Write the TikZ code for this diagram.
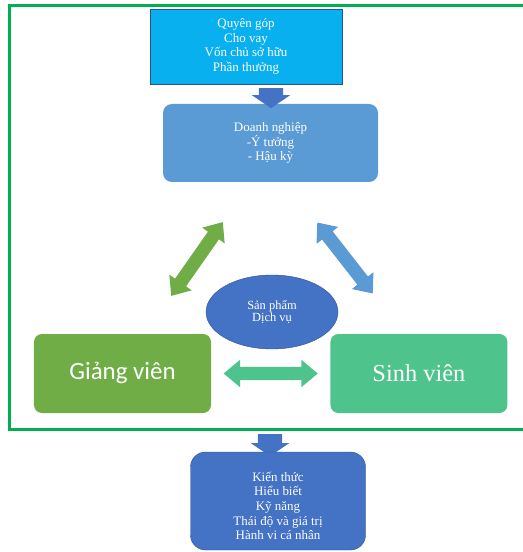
\documentclass[tikz,border=0pt]{standalone}
\usepackage{fontspec}
\setmainfont{Liberation Serif}
\newfontfamily\calibri{Carlito}
\usetikzlibrary{positioning,shapes.geometric,shapes.arrows,calc}

\definecolor{frameGreen}{HTML}{00B050}
\definecolor{skyBlue}{HTML}{08B0F0}
\definecolor{midBlue}{HTML}{5B9BD5}
\definecolor{deepBlue}{HTML}{4472C4}
\definecolor{edgeBlue}{HTML}{2F528F}
\definecolor{leafGreen}{HTML}{70AD47}
\definecolor{mintGreen}{HTML}{4EC38C}

\begin{document}
\begin{tikzpicture}[
    x=1bp, y=-1bp,
    txt/.style={text=white, align=center, font=\fontsize{13}{14.7}\selectfont},
    fundbox/.style={txt, rectangle, draw=edgeBlue, fill=skyBlue, minimum width=192bp, minimum height=75bp},
    bizbox/.style={txt, rectangle, rounded corners=9bp, fill=midBlue, minimum width=215bp, minimum height=78bp},
    actor/.style={rectangle, rounded corners=8bp, text=white, minimum width=177bp, minimum height=79bp},
    outbox/.style={txt, rectangle, rounded corners=15bp, draw=edgeBlue, fill=deepBlue, minimum width=175bp, minimum height=98bp},
    prod/.style={ellipse, draw=edgeBlue, fill=deepBlue, text=white, align=center,
                 font=\fontsize{12.5}{12.5}\selectfont, minimum width=132bp, minimum height=74bp, inner sep=0pt},
    downarr/.style={single arrow, fill=deepBlue, inner xsep=0pt, inner ysep=12bp,
                    single arrow head extend=7bp, single arrow tip angle=112,
                    minimum height=20bp, rotate=-90},
    dblarr/.style={double arrow, inner xsep=0pt, inner ysep=6.5bp,
                   double arrow head extend=7bp, double arrow tip angle=80, minimum height=90bp}
  ]
  \useasboundingbox (0,0) rectangle (523,552);

  % outer frame (open on the right)
  \draw[frameGreen, line width=3bp] (523,6) -| (9,429) -- (523,429);

  % funding and business
  \node[fundbox] (fund) at (246,46.5) {Quyên góp\\Cho vay\\Vốn chủ sở hữu\\Phần thưởng};
  \node[bizbox] (biz) at (270.5,143) {Doanh nghiệp\\-Ý tưởng\\- Hậu kỳ};
  \node[downarr] (feed) at (271,94) {};

  % the three parties
  \node[actor, fill=leafGreen, font=\calibri\fontsize{25}{29}\selectfont] (teach) at (122.5,373.5) {Giảng viên};
  \node[actor, fill=mintGreen, font=\fontsize{24.5}{28}\selectfont, right=119bp of teach] (stud) {Sinh viên};
  \node[prod] (prod) at (272,312) {Sản phẩm\\Dịch vụ};

  % two-way links
  \node[dblarr, fill=leafGreen, rotate=55] (linkL) at (197,259) {};
  \node[dblarr, fill=midBlue, rotate=-52] (linkR) at (345,258) {};
  \node[dblarr, fill=mintGreen, minimum height=94bp] (linkM) at ($(teach.east)!0.5!(stud.west)$) {};

  % outcome
  \node[downarr, minimum height=22bp] (gain) at (270,441) {};
  \node[outbox] (out) at (278,501) {\rule{0pt}{19bp}Kiến thức\\Hiểu biết\\Kỹ năng\\Thái độ và giá trị\\Hành vi cá nhân};
\end{tikzpicture}
\end{document}
